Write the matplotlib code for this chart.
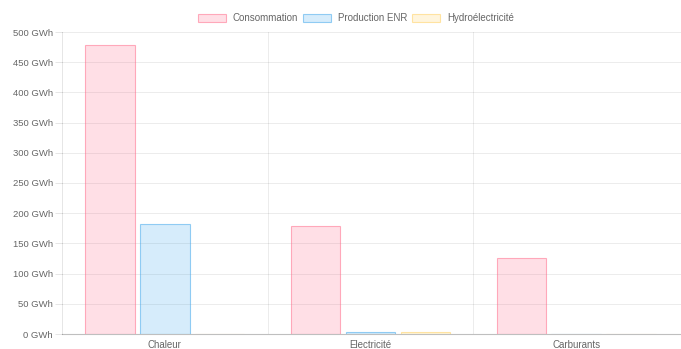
import matplotlib
matplotlib.use("Agg")
import matplotlib.pyplot as plt
import numpy as np

categories = ["Chaleur", "Electricité", "Carburants"]
series_names = ["Consommation", "Production ENR", "Hydroélectricité"]
consommation = [478, 179, 126]
production_enr = [182, 3, 0]
hydroelectricite = [0, 3, 0]
y_ticks = [0, 50, 100, 150, 200, 250, 300, 350, 400, 450, 500]
y_tick_labels = [f"{v} GWh" for v in y_ticks]

fills = [(1.0, 0.388, 0.518, 0.2), (0.212, 0.635, 0.922, 0.2), (1.0, 0.808, 0.337, 0.2)]
edges = [(1.0, 0.388, 0.518, 0.5), (0.212, 0.635, 0.922, 0.5), (1.0, 0.808, 0.337, 0.5)]

plt.rcParams["font.family"] = ["Liberation Sans", "DejaVu Sans"]
W, H = 681, 349
fig = plt.figure(figsize=(W / 100, H / 100), dpi=100)
ax = fig.add_axes([62 / W, 15 / H, (681 - 62) / W, (334 - 32) / H])

x = np.arange(len(categories))
cat_pct, bar_pct = 0.8, 0.9
slot = cat_pct / 3
bw = slot * bar_pct
all_series = [consommation, production_enr, hydroelectricite]
for i, (name, vals) in enumerate(zip(series_names, all_series)):
    pos = x - cat_pct / 2 + slot * (i + 0.5)
    ax.bar(pos, vals, width=bw, color=fills[i], edgecolor=edges[i],
           linewidth=0.8, label=name, zorder=3)

ax.set_xlim(-0.5, len(categories) - 0.5 + 0.01)
ax.set_ylim(0, 500)
ax.set_yticks(y_ticks)
ax.set_yticklabels(y_tick_labels)
ax.set_xticks(x)
ax.set_xticklabels(categories)

grid_c = (0, 0, 0, 0.08)
for yv in y_ticks[1:]:
    ax.axhline(yv, color=grid_c, lw=0.7, zorder=1)
for xv in [0.5, 1.5]:
    ax.axvline(xv, color=grid_c, lw=0.7, zorder=1)

for s in ["top", "right"]:
    ax.spines[s].set_visible(False)
ax.spines["left"].set_color((0, 0, 0, 0.1))
ax.spines["bottom"].set_color((0, 0, 0, 0.25))
ax.spines["left"].set_linewidth(0.7)
ax.spines["bottom"].set_linewidth(0.8)

ax.tick_params(axis="y", length=5, width=0.7, color=(0, 0, 0, 0.1),
               labelsize=6.8, labelcolor="#666666", pad=1.5)
ax.tick_params(axis="x", length=0, labelsize=7, labelcolor="#666666", pad=4)

leg = fig.legend(loc="center", bbox_to_anchor=(356 / W, 1 - 18 / H), ncol=3,
                 frameon=False, fontsize=7.0, handlelength=2.9, handleheight=0.9,
                 handletextpad=0.7, columnspacing=0.5, borderaxespad=0)
for t in leg.get_texts():
    t.set_color("#666666")

fig.savefig("out.png", dpi=100, facecolor="white")
